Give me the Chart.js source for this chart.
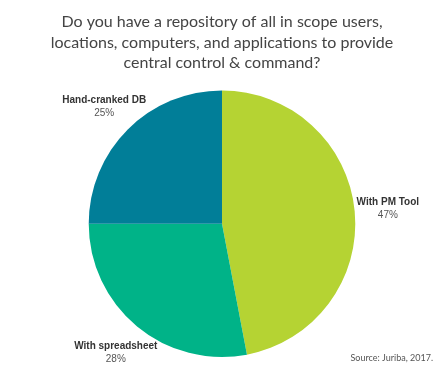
<!DOCTYPE html>
<html>
<head>
<meta charset="utf-8">
<script src="https://cdn.jsdelivr.net/npm/chart.js@4"></script>
<style>
  html, body { margin: 0; padding: 0; background: #fff; }
  #wrap { width: 441px; height: 369px; }
</style>
</head>
<body>
<div id="wrap"><canvas id="myChart"></canvas></div>
<script>
const labels = ["With PM Tool", "With spreadsheet", "Hand-cranked DB"];
const values = [47, 28, 25];
const colors = ["#b5d333", "#00b388", "#017e98"];
const titleLines = [
  "Do you have a repository of all in scope users,",
  "locations, computers, and applications to provide",
  "central control & command?"
];
const sourceText = "Source: Juriba, 2017.";

// draws the name + percent outside each slice, and the source note
const outsideLabels = {
  id: "outsideLabels",
  afterDraw(chart) {
    const ctx = chart.ctx;
    const meta = chart.getDatasetMeta(0);
    ctx.save();
    ctx.textAlign = "center";
    ctx.textBaseline = "middle";
    meta.data.forEach((arc, i) => {
      const mid = (arc.startAngle + arc.endAngle) / 2;
      const r = arc.outerRadius * 1.25;
      const x = arc.x + Math.cos(mid) * r;
      const y = arc.y + Math.sin(mid) * r;
      ctx.fillStyle = "#333";
      ctx.font = "bold 10px 'Liberation Sans', Arial, sans-serif";
      ctx.fillText(labels[i], x, y - 6);
      ctx.fillStyle = "#555";
      ctx.font = "10px 'Liberation Sans', Arial, sans-serif";
      ctx.fillText(values[i] + "%", x, y + 7);
    });
    ctx.textAlign = "right";
    ctx.fillStyle = "#555";
    ctx.font = "9px Lato, sans-serif";
    ctx.fillText(sourceText, 433, 358);
    ctx.restore();
  }
};

const ctx = document.getElementById("myChart");
const chart = new Chart(ctx, {
  type: "pie",
  data: {
    labels: labels,
    datasets: [
      {
        data: values,
        backgroundColor: colors,
        borderWidth: 0,
      },
    ],
  },
  options: {
    responsive: true,
    maintainAspectRatio: false,
    animation: false,
    layout: {
      padding: { top: 0, bottom: 12, left: 3, right: 0 },
    },
    plugins: {
      legend: { display: false },
      tooltip: { enabled: false },
      title: {
        display: true,
        text: titleLines,
        color: "#444",
        font: { family: "Lato, sans-serif", size: 16, weight: "normal", lineHeight: 1.28 },
        padding: { top: 12, bottom: 17 },
      },
    },
  },
  plugins: [outsideLabels],
});
</script>
</body>
</html>
